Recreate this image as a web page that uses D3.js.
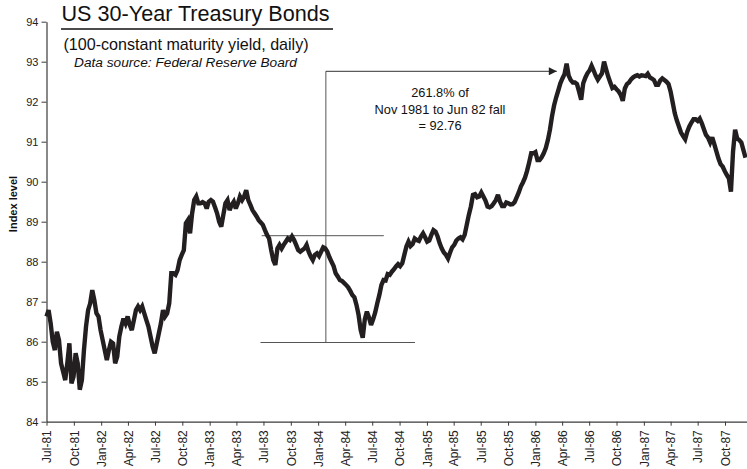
<!DOCTYPE html>
<html>
<head>
<meta charset="utf-8">
<script src="https://cdn.jsdelivr.net/npm/d3@7"></script>
<style>
  body { margin: 0; background: #fff; }
  svg { display: block; font-family: "Liberation Sans", Arial, sans-serif; }
</style>
</head>
<body>
<svg id="chart" width="747" height="469"></svg>
<script>
// Weekly readings of the 100-constant-maturity index, one array per calendar year.
// The series starts on 1981-07-01 and steps forward seven days per value.
const seriesStart = "1981-07-01";
const weekly1981 = [86.63, 86.79, 86.46, 86.0, 85.79, 86.25, 86.04, 85.46, 85.25, 85.04,
  85.46, 85.96, 84.96, 85.13, 85.71, 85.46, 84.8, 85.04, 85.79, 86.38,
  86.79, 86.96, 87.29, 87.04, 86.71, 86.63, 86.29];
const weekly1982 = [86.04, 85.79, 85.54, 85.79, 86.0, 85.96, 85.46, 85.63, 86.13, 86.38,
  86.58, 86.46, 86.63, 86.42, 86.29, 86.54, 86.79, 86.88, 86.79, 86.88,
  86.71, 86.54, 86.38, 86.13, 85.88, 85.71, 85.96, 86.21, 86.46, 86.79,
  86.63, 86.71, 86.96, 87.71, 87.71, 87.67, 87.79, 88.04, 88.17, 88.29,
  88.96, 89.04, 88.71, 89.21, 89.54, 89.63, 89.46, 89.46, 89.49, 89.46,
  89.33, 89.50];
const weekly1983 = [89.54, 89.50, 89.36, 89.21, 89.0, 88.88, 89.17, 89.46, 89.54, 89.29,
  89.42, 89.50, 89.33, 89.46, 89.63, 89.54, 89.63, 89.79, 89.54, 89.42,
  89.29, 89.21, 89.13, 89.04, 88.98, 88.92, 88.79, 88.67, 88.58, 88.29,
  88.04, 87.92, 88.33, 88.42, 88.33, 88.42, 88.5, 88.58, 88.54, 88.63,
  88.54, 88.42, 88.29, 88.25, 88.29, 88.33, 88.42, 88.25, 88.13, 88.04,
  88.17, 88.21];
const weekly1984 = [88.14, 88.25, 88.36, 88.33, 88.25, 88.11, 88.0, 87.89, 87.71, 87.63,
  87.54, 87.52, 87.47, 87.42, 87.36, 87.27, 87.17, 87.11, 86.92, 86.67,
  86.3, 86.1, 86.56, 86.75, 86.61, 86.42, 86.56, 86.73, 86.96, 87.17,
  87.42, 87.54, 87.53, 87.69, 87.67, 87.75, 87.81, 87.88, 87.94, 87.89,
  87.96, 88.17, 88.38, 88.5, 88.39, 88.44, 88.58, 88.54, 88.52, 88.63,
  88.71, 88.61];
const weekly1985 = [88.5, 88.53, 88.67, 88.79, 88.75, 88.63, 88.46, 88.33, 88.23, 88.17,
  88.08, 88.23, 88.36, 88.42, 88.53, 88.58, 88.61, 88.56, 88.67, 88.92,
  89.17, 89.38, 89.67, 89.69, 89.61, 89.63, 89.73, 89.63, 89.53, 89.38,
  89.36, 89.39, 89.46, 89.54, 89.67, 89.5, 89.39, 89.39, 89.48, 89.46,
  89.43, 89.44, 89.49, 89.61, 89.73, 89.88, 89.98, 90.10, 90.27, 90.48,
  90.71, 90.71];
const weekly1986 = [90.74, 90.54, 90.54, 90.61, 90.71, 90.84, 91.04, 91.30, 91.64, 91.91,
  92.11, 92.28, 92.46, 92.58, 92.69, 92.95, 92.65, 92.54, 92.48, 92.48,
  92.44, 92.25, 92.05, 92.46, 92.60, 92.71, 92.78, 92.9, 92.78, 92.65,
  92.55, 92.63, 92.71, 93.0, 92.81, 92.63, 92.48, 92.34, 92.37, 92.31,
  92.26, 92.17, 92.02, 92.33, 92.44, 92.48, 92.56, 92.61, 92.64, 92.66,
  92.63, 92.66, 92.65];
const weekly1987 = [92.64, 92.70, 92.61, 92.58, 92.54, 92.42, 92.42, 92.53, 92.58, 92.54,
  92.50, 92.44, 92.25, 91.98, 91.71, 91.53, 91.38, 91.23, 91.14, 91.06,
  91.25, 91.38, 91.48, 91.56, 91.56, 91.52, 91.58, 91.46, 91.31, 91.17,
  91.10, 90.98, 91.11, 90.94, 90.76, 90.58, 90.44, 90.38, 90.27, 90.17,
  90.08, 89.75, 90.75, 91.3, 91.08, 91.04, 90.98, 90.79, 90.6];

// Axis ticks
const yTicks = [84, 85, 86, 87, 88, 89, 90, 91, 92, 93, 94];
const xTickDates = ["1981-07-01", "1981-10-01", "1982-01-01", "1982-04-01", "1982-07-01",
  "1982-10-01", "1983-01-01", "1983-04-01", "1983-07-01", "1983-10-01", "1984-01-01",
  "1984-04-01", "1984-07-01", "1984-10-01", "1985-01-01", "1985-04-01", "1985-07-01",
  "1985-10-01", "1986-01-01", "1986-04-01", "1986-07-01", "1986-10-01", "1987-01-01",
  "1987-04-01", "1987-07-01", "1987-10-01"];
const xDomain = ["1981-07-01", "1987-12-14"];

// Fibonacci extension annotation
const fibHigh = 88.65;
const fibLow = 85.98;
const fibTarget = 92.76;
const fibHighSpan = ["1983-06-25", "1984-08-09"];
const fibLowSpan = ["1983-06-21", "1984-11-22"];
const fibStem = "1984-01-27";
const fibArrowEnd = "1986-03-14";
const fibNotes = ["261.8% of", "Nov 1981 to Jun 82 fall", "= 92.76"];

const titleText = "US 30-Year Treasury Bonds";
const subtitleText = "(100-constant maturity yield, daily)";
const sourceText = "Data source: Federal Reserve Board";
const yAxisTitle = "Index level";

// ---------------------------------------------------------------------------
const parse = d3.utcParse("%Y-%m-%d");
const start = parse(seriesStart);
const values = [].concat(weekly1981, weekly1982, weekly1983, weekly1984,
  weekly1985, weekly1986, weekly1987);
const series = values.map((v, i) => ({ date: d3.utcDay.offset(start, 7 * i), value: v }));

const svg = d3.select("#chart");
const plotLeft = 46.5, plotRight = 747, plotTop = 21.7, plotBottom = 421.7;

const x = d3.scaleUtc().domain(xDomain.map(parse)).range([plotLeft, plotRight]);
const y = d3.scaleLinear().domain([84, 94]).range([plotBottom, plotTop]);

const axisColor = "#3a3a3a";

// y axis
const yAxis = svg.append("g")
  .attr("transform", `translate(${plotLeft},0)`)
  .call(d3.axisLeft(y).tickValues(yTicks).tickFormat(d3.format("d"))
    .tickSize(5).tickSizeOuter(0).tickPadding(3));
yAxis.select(".domain").attr("stroke", axisColor).attr("stroke-width", 1.2);
yAxis.selectAll(".tick line").attr("stroke", axisColor);
yAxis.selectAll(".tick text")
  .attr("fill", "#222").attr("font-size", 11)
  .attr("font-family", "Liberation Sans, Arial, sans-serif");

// x axis
const xAxis = svg.append("g")
  .attr("transform", `translate(0,${plotBottom})`)
  .call(d3.axisBottom(x).tickValues(xTickDates.map(parse))
    .tickFormat(d3.utcFormat("%b-%y")).tickSize(4).tickSizeOuter(0));
xAxis.select(".domain").attr("stroke", axisColor).attr("stroke-width", 1.2);
xAxis.selectAll(".tick line").attr("stroke", axisColor);
xAxis.selectAll(".tick text")
  .attr("fill", "#222").attr("font-size", 12)
  .attr("font-family", "Liberation Sans, Arial, sans-serif")
  .attr("transform", "rotate(-90)")
  .attr("text-anchor", "end")
  .attr("x", -8.5).attr("y", 0).attr("dy", "0.36em");

// y axis title
svg.append("text")
  .attr("transform", "translate(13,204) rotate(-90)")
  .attr("text-anchor", "middle").attr("dy", "0.35em")
  .attr("font-size", 11).attr("font-weight", "bold").attr("fill", "#111")
  .text(yAxisTitle);

// annotation lines
const annoColor = "#555";
svg.append("line")
  .attr("x1", x(parse(fibHighSpan[0]))).attr("x2", x(parse(fibHighSpan[1])))
  .attr("y1", y(fibHigh)).attr("y2", y(fibHigh))
  .attr("stroke", annoColor).attr("stroke-width", 1);
svg.append("line")
  .attr("x1", x(parse(fibLowSpan[0]))).attr("x2", x(parse(fibLowSpan[1])))
  .attr("y1", y(fibLow)).attr("y2", y(fibLow))
  .attr("stroke", annoColor).attr("stroke-width", 1);
svg.append("line")
  .attr("x1", x(parse(fibStem))).attr("x2", x(parse(fibStem)))
  .attr("y1", y(fibLow)).attr("y2", y(fibTarget))
  .attr("stroke", annoColor).attr("stroke-width", 1);

svg.append("defs").append("marker")
  .attr("id", "arrowhead")
  .attr("viewBox", "0 0 10 10")
  .attr("refX", 10).attr("refY", 5)
  .attr("markerWidth", 10).attr("markerHeight", 8)
  .attr("markerUnits", "userSpaceOnUse")
  .attr("orient", "auto")
  .append("path").attr("d", "M0,0 L10,5 L0,10 Z").attr("fill", "#222");

svg.append("line")
  .attr("x1", x(parse(fibStem))).attr("x2", x(parse(fibArrowEnd)))
  .attr("y1", y(fibTarget)).attr("y2", y(fibTarget))
  .attr("stroke", "#333").attr("stroke-width", 1)
  .attr("marker-end", "url(#arrowhead)");

// series line
svg.append("path")
  .datum(series)
  .attr("fill", "none")
  .attr("stroke", "#231f20")
  .attr("stroke-width", 4.4)
  .attr("stroke-linejoin", "miter")
  .attr("stroke-miterlimit", 3)
  .attr("d", d3.line().x(d => x(d.date)).y(d => y(d.value)));

// annotation text
const noteX = 440;
svg.append("g").selectAll("text")
  .data(fibNotes).join("text")
  .attr("x", noteX)
  .attr("y", (d, i) => 97 + i * 16.5)
  .attr("text-anchor", "middle")
  .attr("font-size", 12.8).attr("fill", "#111")
  .text(d => d);

// title block
svg.append("text")
  .attr("x", 61.5).attr("y", 21)
  .attr("font-size", 21.6).attr("fill", "#111")
  .text(titleText);
svg.append("line")
  .attr("x1", 61).attr("x2", 333).attr("y1", 29).attr("y2", 29)
  .attr("stroke", "#111").attr("stroke-width", 1.5);
svg.append("text")
  .attr("x", 63.5).attr("y", 50)
  .attr("font-size", 16.1).attr("fill", "#111")
  .text(subtitleText);
svg.append("text")
  .attr("x", 74).attr("y", 67)
  .attr("font-size", 13.7).attr("font-style", "italic").attr("fill", "#111")
  .text(sourceText);
</script>
</body>
</html>
